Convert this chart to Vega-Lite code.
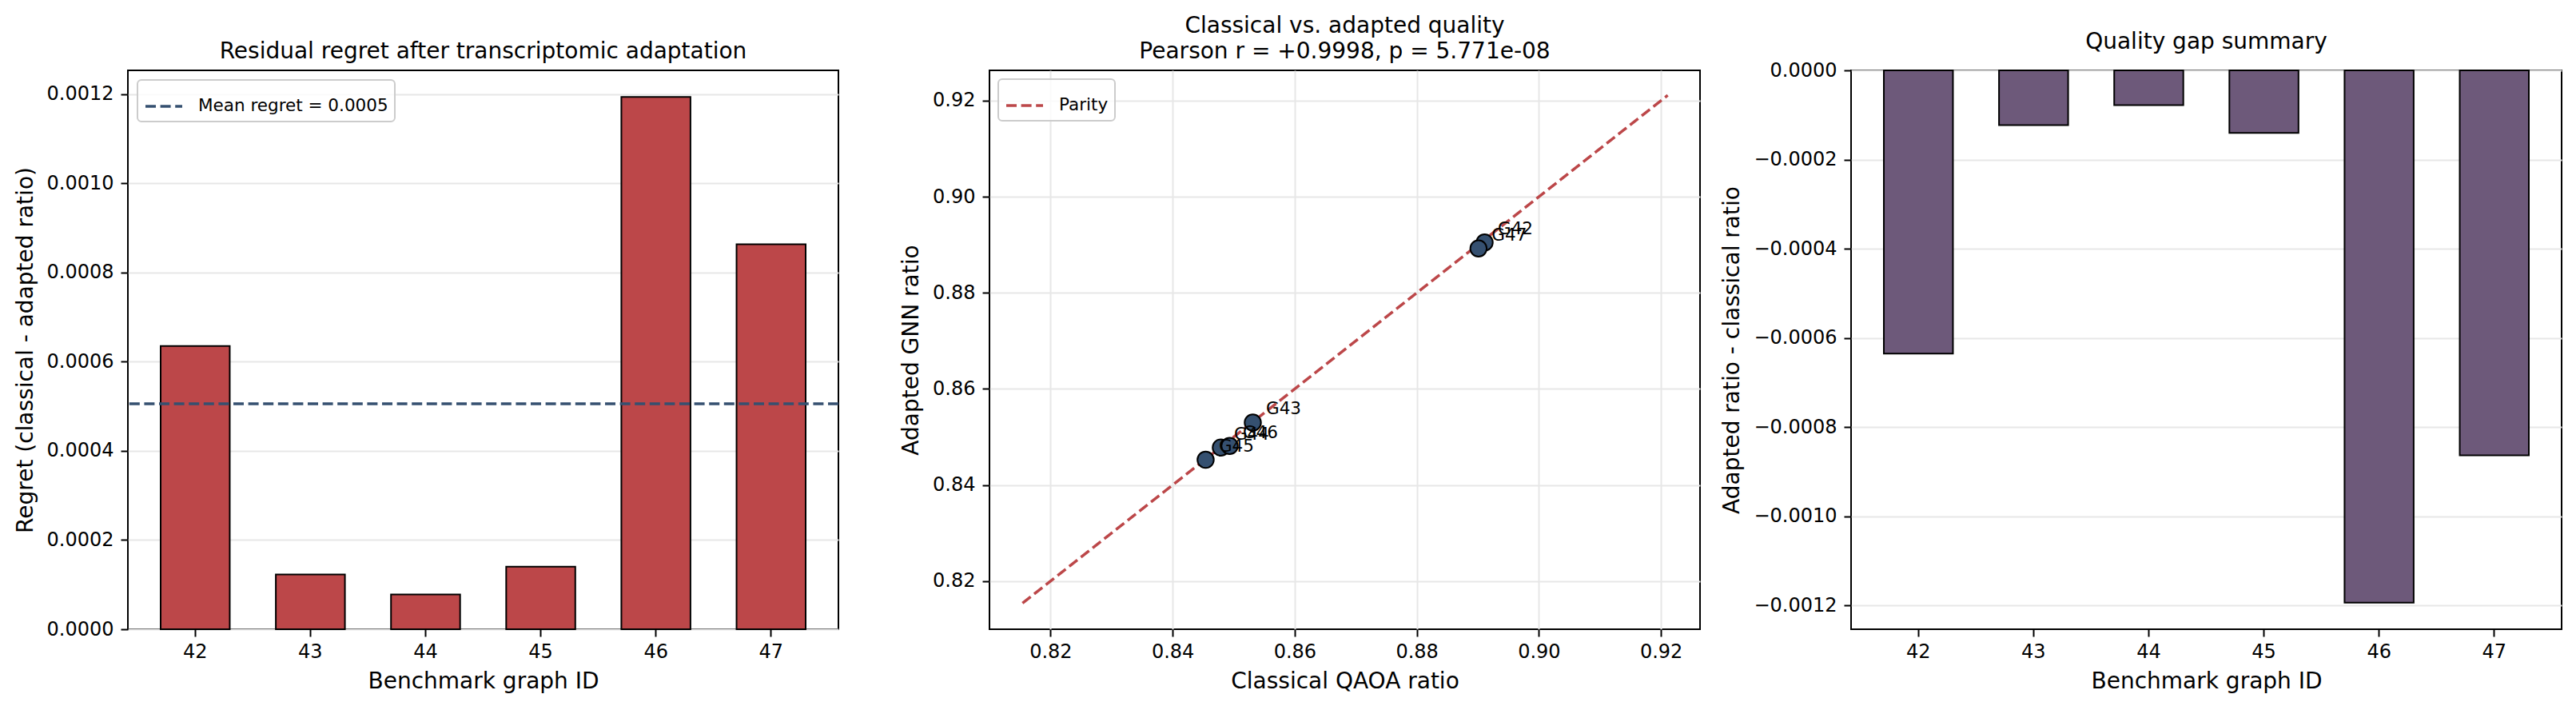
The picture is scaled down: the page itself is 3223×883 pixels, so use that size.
{
  "$schema": "https://vega.github.io/schema/vega-lite/v6.json",
  "background": "white",
  "padding": {"left": 17, "top": 18, "right": 5, "bottom": 5},
  "datasets": {
    "graphs": [
      {"id": 42, "label": "G42", "classical": 0.89111, "adapted": 0.89048, "regret": 0.000635, "gap": -0.000635},
      {"id": 43, "label": "G43", "classical": 0.85314, "adapted": 0.85302, "regret": 0.000123, "gap": -0.000123},
      {"id": 44, "label": "G44", "classical": 0.8479, "adapted": 0.84782, "regret": 0.0000778, "gap": -0.0000778},
      {"id": 45, "label": "G45", "classical": 0.84541, "adapted": 0.84527, "regret": 0.0001404, "gap": -0.0001404},
      {"id": 46, "label": "G46", "classical": 0.84934, "adapted": 0.84815, "regret": 0.0011936, "gap": -0.0011936},
      {"id": 47, "label": "G47", "classical": 0.89011, "adapted": 0.88925, "regret": 0.0008634, "gap": -0.0008634}
    ],
    "parity": [{"p": 0.81541}, {"p": 0.92111}]
  },
  "spacing": 189,
  "bounds": "flush",
  "resolve": {"scale": {"stroke": "independent"}, "legend": {"stroke": "independent"}},
  "config": {
    "font": "DejaVu Sans",
    "view": {"stroke": "black", "strokeWidth": 2},
    "axis": {
      "domain": false,
      "tickColor": "black",
      "tickSize": 9,
      "tickWidth": 2,
      "labelFont": "DejaVu Sans",
      "labelFontSize": 24,
      "labelColor": "black",
      "titleFont": "DejaVu Sans",
      "titleFontSize": 28,
      "titleFontWeight": "normal",
      "titleColor": "black",
      "gridColor": "#e7e7e7",
      "gridWidth": 2
    },
    "axisX": {"labelPadding": 7, "titlePadding": 11, "labelAngle": 0},
    "axisY": {"labelPadding": 9, "titlePadding": 12},
    "title": {"font": "DejaVu Sans", "fontSize": 28, "fontWeight": "normal", "color": "black", "baseline": "bottom", "offset": 9, "frame": "group", "anchor": "middle", "lineHeight": 32},
    "legend": {
      "labelFont": "DejaVu Sans",
      "labelFontSize": 21.5,
      "labelColor": "black",
      "labelLimit": 600,
      "symbolType": "stroke",
      "symbolStrokeWidth": 3.5,
      "symbolDash": [13, 5.6],
      "symbolSize": 2116,
      "labelOffset": 18,
      "padding": 8,
      "fillColor": "rgba(255,255,255,0.8)",
      "strokeColor": "#cccccc",
      "cornerRadius": 5,
      "strokeWidth": 2
    }
  },
  "hconcat": [
    {
      "width": 889,
      "height": 699,
      "title": "Residual regret after transcriptomic adaptation",
      "data": {"name": "graphs"},
      "layer": [
        {
          "mark": {"type": "bar", "fill": "#bc4749", "stroke": "black", "strokeWidth": 2},
          "encoding": {
            "x": {"field": "id", "type": "ordinal", "scale": {"paddingInner": 0.4, "paddingOuter": 0.2845}, "axis": {"title": "Benchmark graph ID", "grid": false}},
            "y": {"field": "regret", "type": "quantitative", "scale": {"domain": [0, 0.0012533], "nice": false}, "axis": {"title": "Regret (classical - adapted ratio)", "values": [0, 0.0002, 0.0004, 0.0006, 0.0008, 0.001, 0.0012], "format": ".4f", "grid": true}}
          }
        },
        {
          "mark": {"type": "rule", "strokeDash": [13, 5.6], "strokeWidth": 3.5},
          "encoding": {
            "y": {"aggregate": "mean", "field": "regret", "type": "quantitative"},
            "stroke": {"datum": "Mean regret = 0.0005", "type": "nominal", "scale": {"range": ["#355070"]}, "legend": {"title": null, "orient": "none", "legendX": 12, "legendY": 12}}
          }
        }
      ]
    },
    {
      "width": 889,
      "height": 699,
      "title": {"text": ["Classical vs. adapted quality", "Pearson r = +0.9998, p = 5.771e-08"]},
      "layer": [
        {
          "data": {"name": "parity"},
          "mark": {"type": "line", "strokeDash": [13, 5.6], "strokeWidth": 3.5},
          "encoding": {
            "x": {"field": "p", "type": "quantitative", "scale": {"domain": [0.81, 0.9264], "nice": false, "zero": false}, "axis": {"title": "Classical QAOA ratio", "values": [0.82, 0.84, 0.86, 0.88, 0.9, 0.92], "format": ".2f", "grid": true}},
            "y": {"field": "p", "type": "quantitative", "scale": {"domain": [0.81, 0.9263], "nice": false, "zero": false}, "axis": {"title": "Adapted GNN ratio", "values": [0.82, 0.84, 0.86, 0.88, 0.9, 0.92], "format": ".2f", "grid": true}},
            "stroke": {"datum": "Parity", "type": "nominal", "scale": {"range": ["#bc4749"]}, "legend": {"title": null, "orient": "none", "legendX": 11, "legendY": 11}}
          }
        },
        {
          "data": {"name": "graphs"},
          "mark": {"type": "circle", "size": 420, "fill": "#355070", "stroke": "black", "strokeWidth": 2, "opacity": 1},
          "encoding": {
            "x": {"field": "classical", "type": "quantitative"},
            "y": {"field": "adapted", "type": "quantitative"}
          }
        },
        {
          "data": {"name": "graphs"},
          "mark": {"type": "text", "align": "left", "baseline": "alphabetic", "dx": 16.5, "dy": -10, "fontSize": 21.5, "color": "black", "font": "DejaVu Sans"},
          "encoding": {
            "x": {"field": "classical", "type": "quantitative"},
            "y": {"field": "adapted", "type": "quantitative"},
            "text": {"field": "label", "type": "nominal"}
          }
        }
      ]
    },
    {
      "width": 889,
      "height": 699,
      "title": "Quality gap summary",
      "data": {"name": "graphs"},
      "mark": {"type": "bar", "fill": "#6d597a", "stroke": "black", "strokeWidth": 2},
      "encoding": {
        "x": {"field": "id", "type": "ordinal", "scale": {"paddingInner": 0.4, "paddingOuter": 0.2845}, "axis": {"title": "Benchmark graph ID", "grid": false}},
        "y": {"field": "gap", "type": "quantitative", "scale": {"domain": [-0.0012533, 0], "nice": false}, "axis": {"title": "Adapted ratio - classical ratio", "values": [-0.0012, -0.001, -0.0008, -0.0006, -0.0004, -0.0002, 0], "format": ".4f", "grid": true}}
      }
    }
  ]
}
